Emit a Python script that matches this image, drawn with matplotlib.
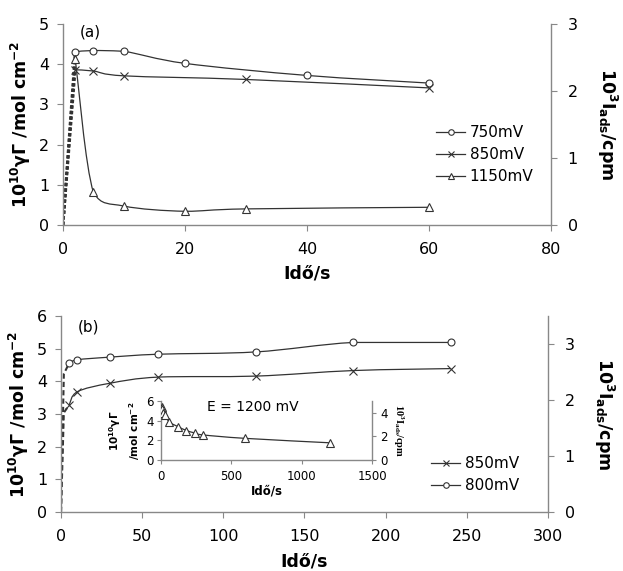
import numpy as np
import matplotlib
matplotlib.use("Agg")
import matplotlib.pyplot as plt
from matplotlib.path import Path
from matplotlib.patches import PathPatch
from matplotlib.lines import Line2D

plt.rcParams['font.family'] = ['DejaVu Sans']
plt.rcParams['mathtext.default'] = 'regular'

# ---------------- data ----------------
# panel (a)
t_a750 = [2, 5, 10, 20, 40, 60]
g_a750 = [4.31, 4.34, 4.32, 4.02, 3.72, 3.53]
t_a850 = [2, 5, 10, 30, 60]
g_a850 = [3.86, 3.83, 3.71, 3.62, 3.41]
t_a1150 = [2, 5, 10, 20, 30, 60]
g_a1150 = [4.14, 0.81, 0.47, 0.34, 0.40, 0.44]
labels_a = ["750mV", "850mV", "1150mV"]

# panel (b)
t_b800 = [5, 10, 30, 60, 120, 180, 240]
g_b800 = [4.55, 4.66, 4.74, 4.83, 4.90, 5.19, 5.19]
t_b850 = [5, 10, 30, 60, 120, 180, 240]
g_b850 = [3.27, 3.68, 3.94, 4.13, 4.16, 4.33, 4.39]
labels_b = ["850mV", "800mV"]

# inset (E = 1200 mV)
t_in = [5, 10, 15, 30, 60, 120, 180, 240, 300, 600, 1200]
g_in = [5.40, 5.15, 4.80, 4.55, 3.85, 3.40, 3.00, 2.75, 2.55, 2.20, 1.75]

LC = '#333333'
SC = '#888888'
TICK_FS = 11.5
LAB_FS = 12.5

YLAB = "10$^{\\mathbf{10}}$γΓ /mol cm$^{\\mathbf{-2}}$"
RLAB = "10$^{\\mathbf{3}}$I$_{\\mathbf{ads}}$/cpm"


def smooth(ax, xs, ys, lw=0.9):
    """Excel-like smoothed line: Catmull-Rom Bezier, control points kept within segment."""
    P = np.column_stack([xs, ys]).astype(float)
    n = len(P)
    verts = [P[0]]
    codes = [Path.MOVETO]
    for i in range(n - 1):
        p0 = P[i - 1] if i > 0 else P[i]
        p1 = P[i]
        p2 = P[i + 1]
        p3 = P[i + 2] if i + 2 < n else P[i + 1]
        c1 = p1 + (p2 - p0) / 6.0
        c2 = p2 - (p3 - p1) / 6.0
        lo, hi = min(p1[1], p2[1]), max(p1[1], p2[1])
        c1[1] = np.clip(c1[1], lo, hi)
        c2[1] = np.clip(c2[1], lo, hi)
        verts += [c1, c2, p2]
        codes += [Path.CURVE4] * 3
    patch = PathPatch(Path(verts, codes), facecolor='none', edgecolor=LC,
                      lw=lw, zorder=2)
    ax.add_patch(patch)


def style_axis(ax):
    ax.spines['top'].set_visible(False)
    for s in ['left', 'bottom', 'right']:
        ax.spines[s].set_color(SC)
        ax.spines[s].set_linewidth(1.0)
    ax.tick_params(colors=SC, labelcolor='black', direction='out')


def mk(m):
    return dict(mfc='white' if m != 'x' else LC, mec=LC, mew=0.8)


fig = plt.figure(figsize=(6.23, 5.71), dpi=100)

# ---------------- panel (a) ----------------
axa = fig.add_axes([0.1011, 0.6060, 0.7833, 0.352])
axa.set_xlim(0, 80)
axa.set_ylim(0, 5)
axa.set_xticks([0, 20, 40, 60, 80])
axa.set_yticks([0, 1, 2, 3, 4, 5])
style_axis(axa)
axa.spines['right'].set_visible(False)
axa.tick_params(labelsize=TICK_FS, length=4)
axa.tick_params(axis='x', pad=8)
axa.tick_params(axis='y', pad=6)

series_a = [(t_a750, g_a750, 'o', 5), (t_a850, g_a850, 'x', 6), (t_a1150, g_a1150, '^', 6)]
handles_a = []
for (t, g, m, ms), lab in zip(series_a, labels_a):
    smooth(axa, t, g)
    axa.plot([0, t[0]], [0, g[0]], color=LC, lw=2.0, ls=(0, (1.2, 0.8)), zorder=2)
    axa.plot(t, g, ls='none', marker=m, ms=ms, zorder=3, **mk(m))
    handles_a.append(Line2D([], [], color=LC, lw=0.9, marker=m, ms=ms - 1, **mk(m)))

axa.set_xlabel("Idő/s", fontsize=LAB_FS, fontweight='bold', labelpad=6)
axa.set_ylabel(YLAB, fontsize=LAB_FS, fontweight='bold', labelpad=4)
axa.text(0.035, 0.96, "(a)", transform=axa.transAxes, fontsize=11, va='center')

axa2 = axa.twinx()
axa2.set_ylim(0, 3)
axa2.set_yticks([0, 1, 2, 3])
style_axis(axa2)
axa2.spines['left'].set_visible(False)
axa2.spines['bottom'].set_visible(False)
axa2.tick_params(labelsize=TICK_FS, length=4, pad=8)
axa2.set_ylabel(RLAB, fontsize=LAB_FS, fontweight='bold', rotation=270, labelpad=30)

fig.legend(handles_a, labels_a, loc='upper left',
           bbox_to_anchor=(436 / 623, 1 - 125 / 571), frameon=False,
           fontsize=11, handlelength=1.9, handletextpad=0.3,
           labelspacing=0.47, borderaxespad=0, borderpad=0)

# ---------------- panel (b) ----------------
axb = fig.add_axes([0.0979, 0.1033, 0.7817, 0.3433])
axb.set_xlim(0, 300)
axb.set_ylim(0, 6)
axb.set_xticks([0, 50, 100, 150, 200, 250, 300])
axb.set_yticks([0, 1, 2, 3, 4, 5, 6])
style_axis(axb)
axb.spines['right'].set_visible(False)
axb.tick_params(labelsize=TICK_FS, length=4)
axb.tick_params(axis='x', pad=8)
axb.tick_params(axis='y', pad=6)

handles_b = {}
for t, g, m, ms, lab in [(t_b800, g_b800, 'o', 5, "800mV"), (t_b850, g_b850, 'x', 6, "850mV")]:
    smooth(axb, t, g)
    axb.plot([0, t[0] * 0.35, t[0]], [0, g[0] * 0.93, g[0]], color=LC, lw=1.5,
             ls=(0, (2.5, 1.5)), zorder=2)
    axb.plot(t, g, ls='none', marker=m, ms=ms, zorder=3, **mk(m))
    handles_b[lab] = Line2D([], [], color=LC, lw=0.9, marker=m, ms=ms - 1, **mk(m))

axb.set_xlabel("Idő/s", fontsize=LAB_FS, fontweight='bold', labelpad=6)
axb.set_ylabel(YLAB, fontsize=LAB_FS, fontweight='bold', labelpad=4)
axb.text(0.035, 0.945, "(b)", transform=axb.transAxes, fontsize=11, va='center')

axb2 = axb.twinx()
axb2.set_ylim(0, 3.5)
axb2.set_yticks([0, 1, 2, 3])
style_axis(axb2)
axb2.spines['left'].set_visible(False)
axb2.spines['bottom'].set_visible(False)
axb2.tick_params(labelsize=TICK_FS, length=4, pad=8)
axb2.set_ylabel(RLAB, fontsize=LAB_FS, fontweight='bold', rotation=270, labelpad=30)

fig.legend([handles_b[l] for l in labels_b], labels_b, loc='upper left',
           bbox_to_anchor=(431 / 623, 1 - 456 / 571), frameon=False,
           fontsize=11, handlelength=1.9, handletextpad=0.3,
           labelspacing=0.47, borderaxespad=0, borderpad=0)

# ---------------- inset ----------------
axi = fig.add_axes([0.2584, 0.1944, 0.3387, 0.1033])
axi.set_xlim(0, 1500)
axi.set_ylim(0, 6)
axi.set_xticks([0, 500, 1000, 1500])
axi.set_yticks([0, 2, 4, 6])
style_axis(axi)
axi.spines['right'].set_visible(False)
axi.tick_params(labelsize=8.5, length=3, pad=2)
axi.tick_params(axis='x', pad=4)
axi.patch.set_alpha(0)
smooth(axi, t_in, g_in)
axi.plot(t_in, g_in, ls='none', marker='^', ms=5.5, zorder=3, **mk('^'))
axi.set_xlabel("Idő/s", fontsize=8.5, fontweight='bold', labelpad=1)
axi.set_ylabel("10$^{\\mathbf{10}}$γΓ\n/mol cm$^{\\mathbf{-2}}$", fontsize=7.5,
               fontweight='bold', labelpad=3, linespacing=1.4)
axi.text(0.217, 0.90, "E = 1200 mV", transform=axi.transAxes, fontsize=10, va='center')

axi2 = axi.twinx()
axi2.set_ylim(0, 5)
axi2.set_yticks([0, 2, 4])
style_axis(axi2)
axi2.spines['left'].set_visible(False)
axi2.spines['bottom'].set_visible(False)
axi2.tick_params(labelsize=8.5, length=3, pad=3)
axi2.set_ylabel("10$^{3}$I$_{ads}$/cpm", fontsize=7.5, fontweight='bold',
                rotation=270, labelpad=13, family=['Liberation Serif', 'DejaVu Serif'])

fig.savefig("out.png", dpi=100)
